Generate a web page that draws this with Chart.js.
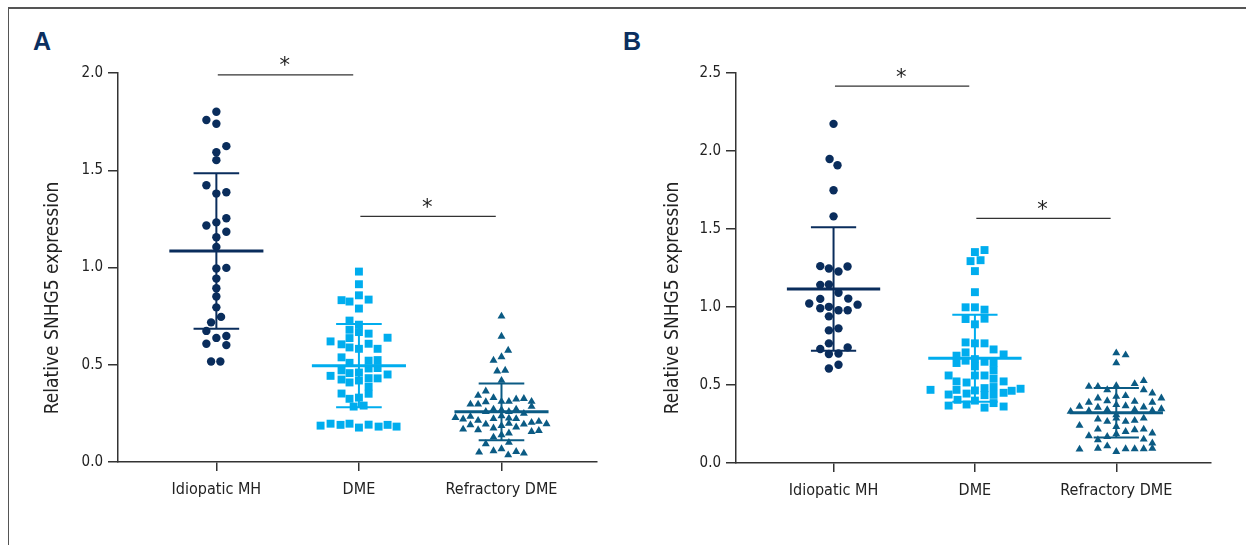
<!DOCTYPE html>
<html>
<head>
<meta charset="utf-8">
<script src="https://cdn.jsdelivr.net/npm/chart.js@4/dist/chart.umd.min.js"></script>
<style>
  html, body { margin: 0; padding: 0; background: #fff; }
  #wrap { position: relative; width: 1246px; height: 545px; overflow: hidden; }
  #frame { position: absolute; left: 8px; top: 7px; right: -4px; bottom: -4px;
           border-top: 2px solid #555; border-left: 1.5px solid #555; }
  .panel { position: absolute; font: bold 25px "Liberation Sans", Arial, sans-serif; color: #0b2f5f; }
  canvas { position: absolute; top: 0; }
</style>
</head>
<body>
<div id="wrap">
  <div id="frame"></div>
  <div class="panel" style="left:33px; top:27px;">A</div>
  <div class="panel" style="left:623px; top:27px;">B</div>
  <canvas id="chartA" width="620" height="545" style="left:0; width:620px; height:545px;"></canvas>
  <canvas id="chartB" width="626" height="545" style="left:620px; width:626px; height:545px;"></canvas>
</div>
<script>
// categorias e ticks
const categories = ['Idiopatic MH', 'DME', 'Refractory DME'];
const yTitle = 'Relative SNHG5 expression';
const yMaxA = 2.0;
const yMaxB = 2.5;

// ---------- Painel A ----------
const mhA = [1.801, 1.758, 1.739, 1.624, 1.593, 1.552, 1.423, 1.380, 1.387, 1.253, 1.232, 1.216, 1.184, 1.156, 1.106,
  0.995, 0.998, 0.943, 0.893, 0.851, 0.795, 0.746, 0.718, 0.674, 0.638, 0.648, 0.608, 0.601, 0.517, 0.517];
const mhA_dx = [0, -0.07, 0, 0.07, 0, 0, -0.07, 0, 0.07, 0.07, 0, -0.07, 0.07, 0, 0,
  0, 0.07, 0, 0, 0, 0, 0.033, -0.037, -0.07, 0, 0.07, -0.07, 0.07, -0.037, 0.028];

const dmeA = [0.979, 0.914, 0.857, 0.832, 0.825, 0.835, 0.789, 0.727, 0.706, 0.680, 0.668, 0.660, 0.639, 0.637, 0.620,
  0.605, 0.608, 0.589, 0.582, 0.582, 0.538, 0.521, 0.524, 0.510, 0.481, 0.483, 0.471, 0.457, 0.460, 0.443,
  0.450, 0.424, 0.409, 0.419, 0.431, 0.430, 0.388, 0.352, 0.351, 0.325, 0.331, 0.285, 0.290, 0.187, 0.197,
  0.191, 0.197, 0.177, 0.192, 0.182, 0.191, 0.182];
const dmeA_dx = [0, 0, 0, -0.122, -0.066, 0.068, 0, -0.066, 0, -0.066, 0, 0.068, 0.201, -0.066, -0.199,
  -0.122, 0.068, -0.066, 0, 0.131, -0.122, 0.068, 0.131, -0.066, 0.068, 0.131, -0.122, -0.066, 0, -0.199,
  0.201, -0.122, -0.066, 0, 0.068, 0.131, 0.068, -0.122, 0.068, -0.066, 0, -0.037, 0.033, -0.269, -0.199,
  -0.129, -0.066, 0, 0.068, 0.138, 0.201, 0.264];

const refA = [0.749, 0.646, 0.574, 0.540, 0.522, 0.467, 0.471, 0.419, 0.364, 0.342, 0.330, 0.297, 0.297, 0.309, 0.311,
  0.311, 0.323, 0.326, 0.311, 0.285, 0.259, 0.271, 0.268, 0.259, 0.271, 0.249, 0.228, 0.220, 0.234, 0.213,
  0.222, 0.237, 0.225, 0.222, 0.168, 0.191, 0.165, 0.194, 0.174, 0.186, 0.198, 0.179, 0.194, 0.203, 0.208,
  0.196, 0.156, 0.161, 0.127, 0.139, 0.148, 0.093, 0.100, 0.050, 0.057, 0.067, 0.036, 0.053, 0.045];
const refA_dx = [0, 0, 0.047, 0, -0.056, -0.03, 0.026, 0, -0.11, -0.164, -0.056, -0.218, -0.164, -0.11, 0,
  0.052, 0.103, 0.157, 0.211, 0.211, -0.11, -0.056, 0, 0.052, 0.103, 0.157, -0.323, -0.269, -0.218, -0.164,
  -0.056, 0, 0.052, 0.103, -0.269, -0.218, -0.164, -0.11, -0.056, 0, 0.052, 0.103, 0.157, 0.211, 0.262,
  0.316, 0.211, 0.262, -0.056, 0, 0.052, -0.11, 0.052, -0.157, -0.056, 0, 0.047, 0.103, 0.157];

const meanA = [1.085, 0.495, 0.258];
const sdA = [0.400, 0.214, 0.146];
const sigPairsA = [[1, 2], [2, 3]];
const sigHeightA = [1.99, 1.263];

// ---------- Painel B ----------
const mhB = [2.174, 1.949, 1.909, 1.748, 1.581, 1.262, 1.247, 1.228, 1.260, 1.142, 1.144, 1.091, 1.022, 1.052, 1.054,
  1.015, 0.992, 1.001, 0.979, 0.979, 0.940, 0.850, 0.863, 0.767, 0.731, 0.741, 0.699, 0.702, 0.606, 0.630];
const mhB_dx = [0, -0.028, 0.028, 0, 0, -0.094, -0.033, 0.035, 0.099, -0.094, -0.033, 0.035, -0.172, -0.094, 0.104,
  0.17, -0.094, -0.033, 0.035, 0.10, -0.033, -0.033, 0.035, -0.033, -0.094, 0.10, -0.033, 0.035, -0.033, 0.035];

const dmeB = [1.352, 1.365, 1.294, 1.300, 1.230, 1.095, 0.998, 0.998, 0.983, 0.923, 0.925, 0.889, 0.773, 0.767, 0.767,
  0.728, 0.696, 0.709, 0.688, 0.641, 0.656, 0.666, 0.649, 0.641, 0.619, 0.593, 0.561, 0.561, 0.561, 0.540,
  0.523, 0.516, 0.523, 0.469, 0.469, 0.465, 0.480, 0.487, 0.463, 0.476, 0.439, 0.445, 0.435, 0.437, 0.450,
  0.405, 0.400, 0.384, 0.368, 0.375, 0.355, 0.362];
const dmeB_dx = [0, 0.068, -0.031, 0.040, 0, 0, -0.066, 0, 0.068, -0.066, 0.068, 0, -0.066, 0, 0.068,
  0.132, 0.203, -0.066, -0.13, -0.13, -0.066, 0, 0.068, 0.132, 0, 0.132, -0.186, 0, 0.068, 0.132,
  -0.13, -0.059, 0.203, -0.314, -0.13, 0, 0.068, 0.132, 0.26, 0.323, -0.186, -0.059, 0.068, 0.132, 0.203,
  -0.123, 0, 0.132, -0.186, -0.059, 0.068, 0.203];

const refB = [0.705, 0.692, 0.641, 0.490, 0.490, 0.469, 0.495, 0.508, 0.527, 0.469, 0.416, 0.398, 0.426, 0.431, 0.394,
  0.448, 0.416, 0.362, 0.388, 0.356, 0.341, 0.373, 0.366, 0.358, 0.388, 0.330, 0.334, 0.330, 0.308, 0.341,
  0.336, 0.347, 0.281, 0.266, 0.287, 0.266, 0.272, 0.287, 0.240, 0.216, 0.233, 0.201, 0.212, 0.216, 0.191,
  0.174, 0.148, 0.169, 0.186, 0.152, 0.127, 0.088, 0.094, 0.109, 0.073, 0.090, 0.090, 0.090, 0.094];
const refB_dx = [0, 0.066, 0, -0.194, -0.13, -0.064, 0, 0.13, 0.194, 0.194, -0.13, -0.064, 0, 0.066, 0.13,
  0.255, 0.319, -0.26, -0.194, -0.13, -0.064, 0, 0.066, 0.194, 0.255, -0.323, -0.194, -0.064, 0, 0.13,
  0.255, 0.319, -0.13, -0.064, 0, 0.066, 0.13, 0.194, -0.26, -0.13, 0, 0.066, 0.13, 0.194, 0.255,
  -0.194, -0.13, -0.064, 0, 0.194, 0.255, -0.26, -0.13, -0.064, 0, 0.066, 0.13, 0.194, 0.255];

const meanB = [1.116, 0.672, 0.322];
const sdB = [0.396, 0.279, 0.158];
const sigPairsB = [[1, 2], [2, 3]];
const sigHeightB = [2.416, 1.568];

// Cores
const corMH = '#0a2d5c';
const corDME = '#00adee';
const corREF = '#0b5b84';
const corEixo = '#333333';
const fonteEixo = '"Liberation Sans Narrow", "DejaVu Sans Condensed", "Roboto Condensed", sans-serif';

const estilos = [
  { cor: corMH, ponto: 'circle', raio: 4.2 },
  { cor: corDME, ponto: 'rect', raio: 5.6 },
  { cor: corREF, ponto: 'triangle', raio: 4.6 }
];

function pontos(vals, dx, cat) {
  return vals.map((v, i) => ({ x: cat + dx[i], y: v }));
}

function segmento(x1, x2, y1, y2, cor, largura) {
  return {
    type: 'line',
    data: [{ x: x1, y: y1 }, { x: x2, y: y2 }],
    borderColor: cor,
    borderWidth: largura,
    pointRadius: 0,
    fill: false,
    order: 0,
    clip: false
  };
}

function montarDatasets(grupos, medias, dps, pares, alturas) {
  const ds = [];
  grupos.forEach((g, i) => {
    const c = i + 1;
    const e = estilos[i];
    ds.push({
      type: 'scatter',
      data: pontos(g.vals, g.dx, c),
      pointStyle: e.ponto,
      pointRadius: e.raio,
      pointBackgroundColor: e.cor,
      pointBorderWidth: 0,
      order: 1,
      clip: false
    });
  });
  medias.forEach((m, i) => {
    const c = i + 1;
    const cor = estilos[i].cor;
    const sup = m + dps[i];
    const inf = m - dps[i];
    ds.push(segmento(c - 0.33, c + 0.33, m, m, cor, 3));
    ds.push(segmento(c - 0.16, c + 0.16, sup, sup, cor, 2));
    ds.push(segmento(c - 0.16, c + 0.16, inf, inf, cor, 2));
    ds.push(segmento(c, c, inf, sup, cor, 2));
  });
  pares.forEach((p, i) => {
    ds.push(segmento(p[0] + 0.01, p[1] - 0.04, alturas[i], alturas[i], corEixo, 1.3));
  });
  return ds;
}

// Plugin: asteriscos e titulo do eixo y
function pluginTextos(pares, alturas) {
  return {
    id: 'textos',
    afterDatasetsDraw(chart) {
      const { ctx, scales } = chart;
      ctx.save();
      ctx.fillStyle = '#222';
      ctx.font = '21px "DejaVu Sans", sans-serif';
      ctx.textAlign = 'center';
      ctx.textBaseline = 'middle';
      pares.forEach((p, i) => {
        const x = scales.x.getPixelForValue((p[0] + p[1]) / 2) - 3;
        const y = scales.y.getPixelForValue(alturas[i]) - 8;
        ctx.fillText('*', x, y);
      });
      ctx.translate(53, 298);
      ctx.rotate(-Math.PI / 2);
      ctx.font = '19px ' + fonteEixo;
      ctx.fillText(yTitle, 0, 0);
      ctx.restore();
    }
  };
}

function criarGrafico(id, cfg) {
  const ctx = document.getElementById(id).getContext('2d');
  return new Chart(ctx, {
    data: { datasets: montarDatasets(cfg.grupos, cfg.medias, cfg.dps, cfg.pares, cfg.alturas) },
    options: {
      responsive: false,
      animation: false,
      layout: { padding: cfg.padding },
      plugins: { legend: { display: false }, tooltip: { enabled: false } },
      scales: {
        x: {
          type: 'linear',
          min: 0.31,
          max: 3.67,
          afterBuildTicks: (axis) => { axis.ticks = [1, 2, 3].map(v => ({ value: v })); },
          afterFit: (axis) => { axis.height = 60; },
          grid: { drawOnChartArea: false, tickLength: 9, color: corEixo, lineWidth: 1.5 },
          border: { color: corEixo, width: 1.5 },
          ticks: {
            autoSkip: false,
            maxRotation: 0,
            padding: 9,
            color: '#222',
            font: { family: fonteEixo, size: 16 },
            callback: (v) => categories[v - 1]
          }
        },
        y: {
          min: 0,
          max: cfg.yMax,
          afterFit: (axis) => { axis.width = cfg.yLargura; },
          grid: { drawOnChartArea: false, tickLength: 10, color: corEixo, lineWidth: 1.5 },
          border: { color: corEixo, width: 1.5 },
          ticks: {
            stepSize: 0.5,
            padding: 5,
            color: '#222',
            font: { family: fonteEixo, size: 15 },
            callback: (v) => v.toFixed(1)
          }
        }
      }
    },
    plugins: [pluginTextos(cfg.pares, cfg.alturas)]
  });
}

criarGrafico('chartA', {
  grupos: [{ vals: mhA, dx: mhA_dx }, { vals: dmeA, dx: dmeA_dx }, { vals: refA, dx: refA_dx }],
  medias: meanA, dps: sdA, pares: sigPairsA, alturas: sigHeightA,
  yMax: yMaxA, yLargura: 118,
  padding: { left: 0, top: 73, right: 23, bottom: 23 }
});

criarGrafico('chartB', {
  grupos: [{ vals: mhB, dx: mhB_dx }, { vals: dmeB, dx: dmeB_dx }, { vals: refB, dx: refB_dx }],
  medias: meanB, dps: sdB, pares: sigPairsB, alturas: sigHeightB,
  yMax: yMaxB, yLargura: 116,
  padding: { left: 0, top: 73, right: 35, bottom: 22 }
});
</script>
</body>
</html>
